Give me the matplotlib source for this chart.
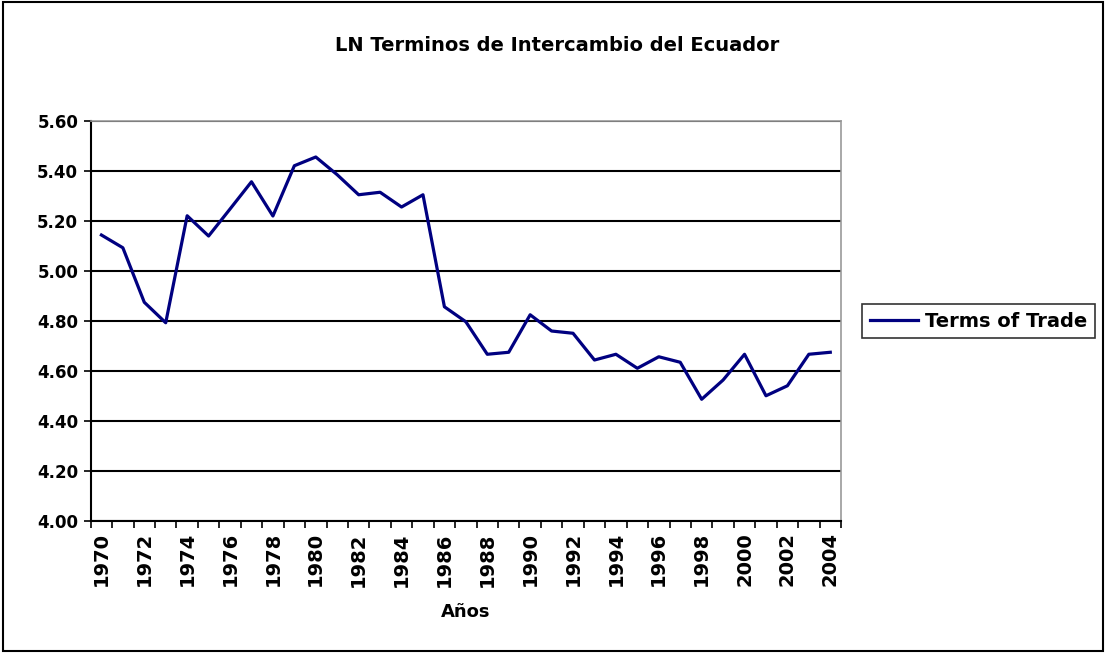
import matplotlib.pyplot as plt
from matplotlib.patches import Rectangle

plt.rcParams['font.family'] = ['DejaVu Sans']

years = list(range(1970, 2005))
terms_of_trade = [5.144, 5.093, 4.875, 4.793, 5.221, 5.140, 5.248, 5.357, 5.220, 5.421,
                  5.456, 5.385, 5.305, 5.315, 5.256, 5.305, 4.857, 4.797, 4.667, 4.675,
                  4.825, 4.760, 4.751, 4.644, 4.667, 4.611, 4.657, 4.635, 4.487, 4.564,
                  4.667, 4.501, 4.541, 4.667, 4.675]
y_ticks = [4.0, 4.2, 4.4, 4.6, 4.8, 5.0, 5.2, 5.4, 5.6]

fig = plt.figure(figsize=(11.06, 6.53), dpi=100)
fig.patches.append(Rectangle((0.003, 0.003), 0.994, 0.994, transform=fig.transFigure,
                             fill=False, edgecolor='black', linewidth=1.5))

ax = fig.add_axes([0.082, 0.2021, 0.6784, 0.6126])
pos = list(range(len(years)))
ax.plot(pos, terms_of_trade, color='#000080', linewidth=2.3, label='Terms of Trade')

ax.set_xlim(-0.5, len(years) - 0.5)
ax.set_ylim(4.0, 5.6)
ax.set_yticks(y_ticks)
ax.set_yticklabels([f"{v:.2f}" for v in y_ticks], fontsize=12, fontweight='bold')
ax.yaxis.grid(True, color='black', linewidth=1.5)
ax.set_axisbelow(True)

# tick marks sit between categories, every other year gets a label
ax.set_xticks([p - 0.5 for p in pos] + [len(years) - 0.5])
ax.set_xticklabels([])
ax.set_xticks(pos[::2], minor=True)
ax.set_xticklabels([str(y) for y in years[::2]], minor=True, rotation=90,
                   fontsize=14, fontweight='bold')
ax.tick_params(axis='x', which='minor', length=0, pad=8)
ax.tick_params(axis='x', which='major', length=5, width=1.2, direction='out')
ax.tick_params(axis='y', length=5, width=1.2, direction='out', pad=4)

for side in ['left', 'bottom']:
    ax.spines[side].set_color('black')
    ax.spines[side].set_linewidth(1.5)
for side in ['top', 'right']:
    ax.spines[side].set_color('#999999')
    ax.spines[side].set_linewidth(1.2)

ax.set_xlabel('Años', fontsize=13, fontweight='bold', labelpad=12)
fig.text(0.504, 0.931, 'LN Terminos de Intercambio del Ecuador', ha='center', va='center',
         fontsize=14, fontweight='bold')

leg = ax.legend(loc='center left', bbox_to_anchor=(1.028, 0.5), frameon=True, fancybox=False,
                prop={'size': 14, 'weight': 'bold'}, handlelength=2.5, borderpad=0.4,
                handletextpad=0.35, borderaxespad=0)
leg.get_frame().set_edgecolor('black')
leg.get_frame().set_linewidth(1.2)

plt.savefig('out.png', dpi=100)
